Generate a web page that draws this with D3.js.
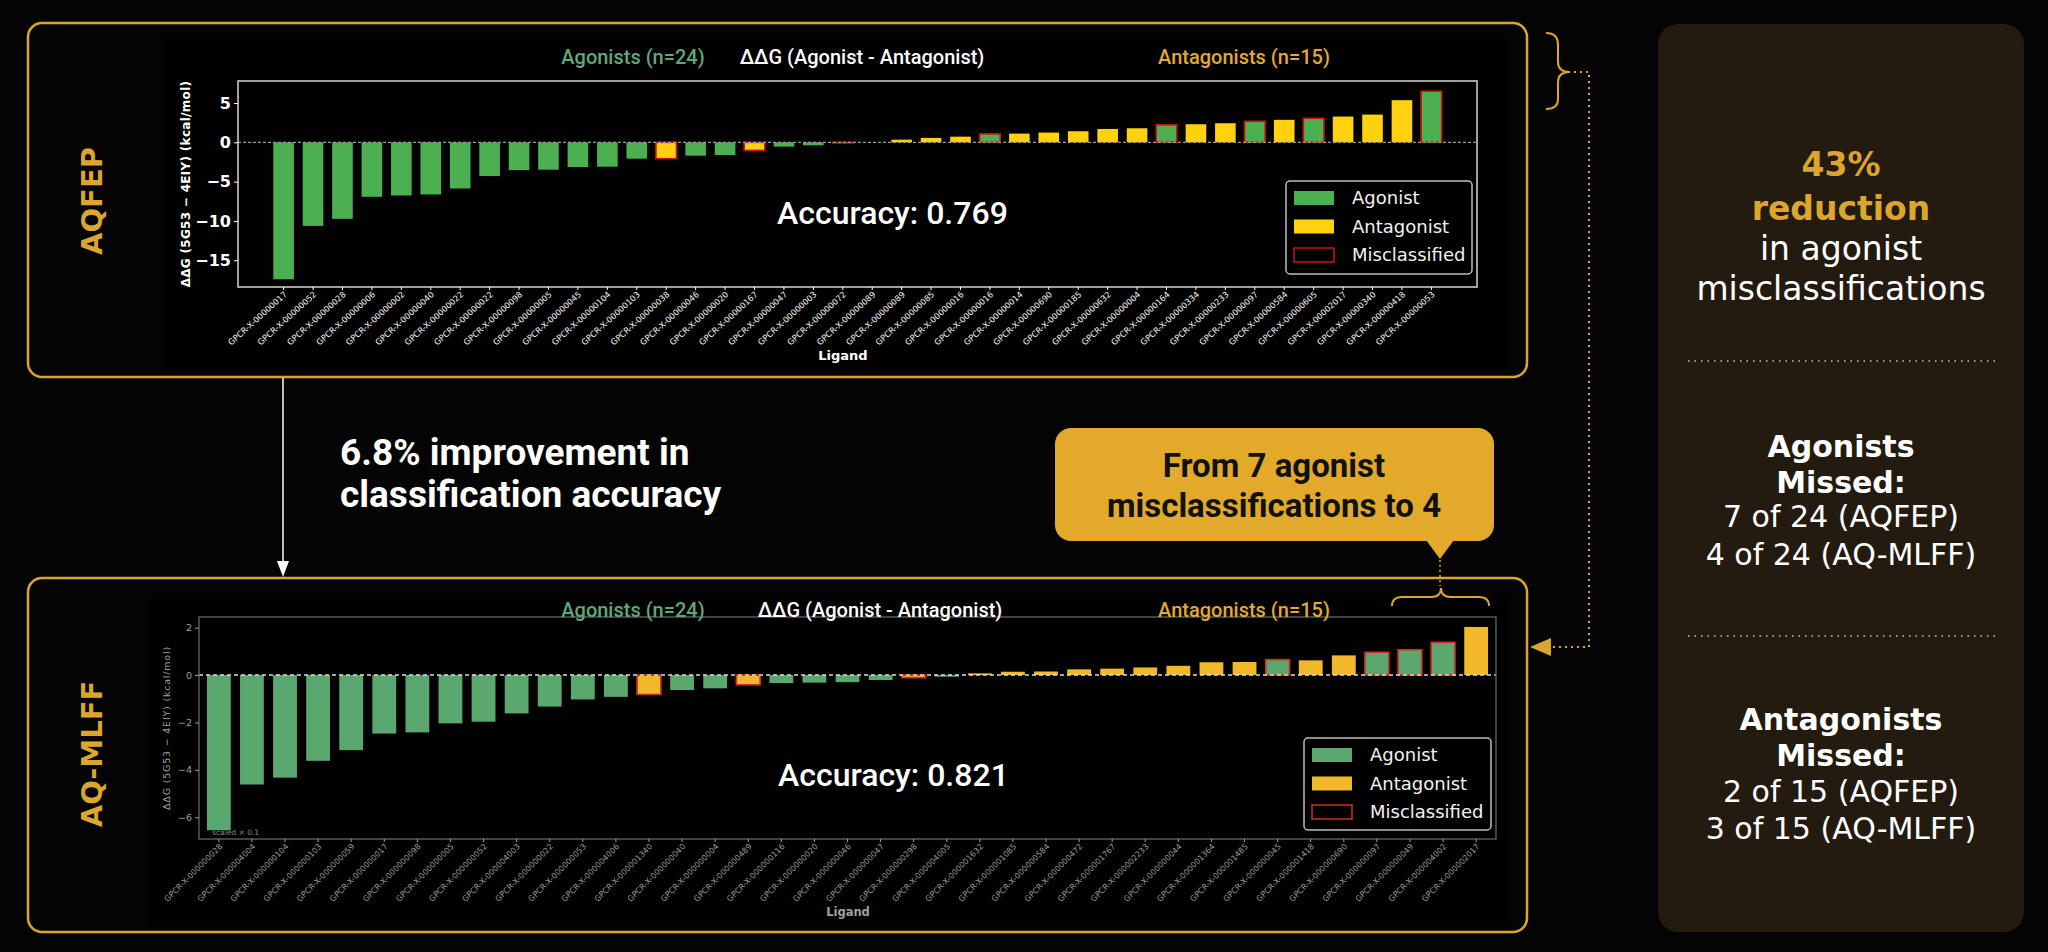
<!DOCTYPE html>
<html>
<head>
<meta charset="utf-8">
<script src="https://cdn.jsdelivr.net/npm/d3@7"></script>
<style>
html, body { margin: 0; padding: 0; background: #040404; }
svg { display: block; }
</style>
</head>
<body>
<script>
// ---- AQFEP panel (top) ----
var fepLigands = [
  "GPCR-X-00000017", "GPCR-X-00000052", "GPCR-X-00000028", "GPCR-X-00000006", "GPCR-X-00000002",
  "GPCR-X-00000040", "GPCR-X-00000022", "GPCR-X-00000022", "GPCR-X-00000098", "GPCR-X-00000005",
  "GPCR-X-00000045", "GPCR-X-00000104", "GPCR-X-00000103", "GPCR-X-00000038", "GPCR-X-00000046",
  "GPCR-X-00000020", "GPCR-X-00000167", "GPCR-X-00000047", "GPCR-X-00000003", "GPCR-X-00000072",
  "GPCR-X-00000089", "GPCR-X-00000089", "GPCR-X-00000085", "GPCR-X-00000016", "GPCR-X-00000016",
  "GPCR-X-00000014", "GPCR-X-00000690", "GPCR-X-00000185", "GPCR-X-00000632", "GPCR-X-00000004",
  "GPCR-X-00000164", "GPCR-X-00000334", "GPCR-X-00000233", "GPCR-X-00000097", "GPCR-X-00000584",
  "GPCR-X-00000605", "GPCR-X-00002017", "GPCR-X-00000340", "GPCR-X-00000418", "GPCR-X-00000053"
];
var fepValues = [
  -17.42, -10.63, -9.73, -6.93, -6.76, -6.63, -5.87, -4.29, -3.53, -3.48,
  -3.14, -3.10, -2.08, -2.08, -1.70, -1.61, -1.02, -0.55, -0.38, -0.08,
  0.02, 0.34, 0.56, 0.72, 1.07, 1.11, 1.24, 1.41, 1.70, 1.79,
  2.22, 2.30, 2.43, 2.68, 2.86, 3.06, 3.28, 3.53, 5.36, 6.51
];
// "ag" = agonist, "an" = antagonist
var fepClass = [
  "ag","ag","ag","ag","ag","ag","ag","ag","ag","ag",
  "ag","ag","ag","an","ag","ag","an","ag","ag","ag",
  "ag","an","an","an","ag","an","an","an","an","an",
  "ag","an","an","ag","an","ag","an","an","an","ag"
];
var fepMissed = [13, 16, 19, 24, 30, 33, 35, 39];
var fepTicks = [5, 0, -5, -10, -15];

// ---- AQ-MLFF panel (bottom) ----
var mlffLigands = [
  "GPCR-X-000000028", "GPCR-X-000004004", "GPCR-X-000000104", "GPCR-X-000000103", "GPCR-X-000000059",
  "GPCR-X-000000017", "GPCR-X-000000098", "GPCR-X-000000005", "GPCR-X-000000052", "GPCR-X-000004003",
  "GPCR-X-000000022", "GPCR-X-000000053", "GPCR-X-000004006", "GPCR-X-000001340", "GPCR-X-000000040",
  "GPCR-X-000000004", "GPCR-X-000000489", "GPCR-X-000000116", "GPCR-X-000000020", "GPCR-X-000000046",
  "GPCR-X-000000047", "GPCR-X-000000298", "GPCR-X-000004005", "GPCR-X-000001632", "GPCR-X-000001085",
  "GPCR-X-000000584", "GPCR-X-000000472", "GPCR-X-000001767", "GPCR-X-000002233", "GPCR-X-000000044",
  "GPCR-X-000001364", "GPCR-X-000001485", "GPCR-X-000000045", "GPCR-X-000001418", "GPCR-X-000000690",
  "GPCR-X-000000097", "GPCR-X-000000049", "GPCR-X-000004002", "GPCR-X-000002017"
];
var mlffValues = [
  -6.55, -4.62, -4.33, -3.62, -3.17, -2.47, -2.42, -2.04, -1.97, -1.62,
  -1.33, -1.03, -0.92, -0.82, -0.63, -0.56, -0.41, -0.34, -0.32, -0.30,
  -0.21, -0.11, -0.07, 0.07, 0.14, 0.15, 0.24, 0.27, 0.32, 0.39,
  0.54, 0.55, 0.65, 0.62, 0.83, 0.96, 1.07, 1.38, 2.03
];
var mlffClass = [
  "ag","ag","ag","ag","ag","ag","ag","ag","ag","ag",
  "ag","ag","ag","an","ag","ag","an","ag","ag","ag",
  "ag","an","ag","an","an","an","an","an","an","an",
  "an","an","ag","an","an","ag","ag","ag","an"
];
var mlffMissed = [13, 16, 21, 32, 35, 36, 37];
var mlffTicks = [2, 0, -2, -4, -6];

var legendLabels = ["Agonist", "Antagonist", "Misclassified"];
var panelStats = [
  {head: ["43%", "reduction"], body: ["in agonist", "misclassifications"]},
  {head: ["Agonists", "Missed:"], body: ["7 of 24 (AQFEP)", "4 of 24 (AQ-MLFF)"]},
  {head: ["Antagonists", "Missed:"], body: ["2 of 15 (AQFEP)", "3 of 15 (AQ-MLFF)"]}
];

var gold = "#DCA62D";

var svg = d3.select("body").append("svg")
    .attr("width", 2048)
    .attr("height", 952);

svg.append("rect").attr("width", 2048).attr("height", 952).attr("fill", "#040404");

function drawChart(o) {
    var g = svg.append("g");
    var idx = d3.range(o.values.length);

    g.append("rect")
        .attr("x", o.img[0]).attr("y", o.img[1])
        .attr("width", o.img[2]).attr("height", o.img[3])
        .attr("fill", "#010101");

    var x = d3.scaleBand()
        .domain(idx)
        .range([o.x0, o.x1])
        .paddingInner(o.pi)
        .paddingOuter(o.po);

    var y = d3.scaleLinear()
        .domain(o.yDomain)
        .range([o.y1, o.y0]);

    var missed = new Set(o.missed);

    g.selectAll(".bar")
        .data(idx)
        .enter()
        .append("rect")
        .attr("class", "bar")
        .attr("x", function(i) { return x(i); })
        .attr("width", x.bandwidth())
        .attr("y", function(i) { return y(Math.max(0, o.values[i])); })
        .attr("height", function(i) { return Math.abs(y(o.values[i]) - y(0)); })
        .attr("fill", function(i) { return o.cls[i] == "ag" ? o.green : o.yellow; })
        .attr("stroke", function(i) { return missed.has(i) ? o.red : "none"; })
        .attr("stroke-width", 1.6);

    g.append("line")
        .attr("x1", o.x0).attr("x2", o.x1)
        .attr("y1", y(0)).attr("y2", y(0))
        .attr("stroke", o.zeroColor)
        .attr("stroke-width", o.zeroWidth)
        .attr("stroke-dasharray", o.zeroDash);

    g.append("rect")
        .attr("x", o.x0).attr("y", o.y0)
        .attr("width", o.x1 - o.x0).attr("height", o.y1 - o.y0)
        .attr("fill", "none")
        .attr("stroke", o.frame)
        .attr("stroke-width", o.frameWidth);

    var yAxis = g.append("g")
        .attr("transform", "translate(" + o.x0 + ",0)")
        .call(d3.axisLeft(y).tickValues(o.ticks).tickSize(4).tickPadding(3));
    yAxis.select(".domain").remove();
    yAxis.selectAll("line").attr("stroke", o.axisColor);
    yAxis.selectAll("text")
        .attr("fill", o.axisColor)
        .style("font-family", "DejaVu Sans")
        .style("font-size", o.yTickSize + "px")
        .style("font-weight", o.bold ? "bold" : "normal");

    var xAxis = g.append("g")
        .attr("transform", "translate(0," + o.y1 + ")")
        .call(d3.axisBottom(x).tickSize(3).tickFormat(function(i) { return o.ligands[i]; }));
    xAxis.select(".domain").remove();
    xAxis.selectAll("line").attr("stroke", o.axisColor);
    xAxis.selectAll("text")
        .attr("x", 0).attr("y", 0).attr("dy", "0.35em")
        .attr("text-anchor", "end")
        .attr("transform", "translate(2,6) rotate(" + o.labelAngle + ")")
        .attr("fill", o.xLabelColor)
        .style("font-family", "DejaVu Sans")
        .style("font-size", o.xLabelSize + "px");

    g.append("text")
        .attr("transform", "translate(" + o.yLabelX + "," + ((o.y0 + o.y1) / 2) + ") rotate(-90)")
        .attr("text-anchor", "middle")
        .attr("fill", o.axisColor)
        .style("font-family", "DejaVu Sans")
        .style("font-size", o.yLabelSize + "px")
        .style("font-weight", o.bold ? "bold" : "normal")
        .style("letter-spacing", o.bold ? "0.3px" : "0.8px")
        .text("ΔΔG (5G53 − 4EIY) (kcal/mol)");

    g.append("text")
        .attr("x", o.ligandX).attr("y", o.ligandY)
        .attr("text-anchor", "middle")
        .attr("fill", o.axisColor)
        .style("font-family", "DejaVu Sans")
        .style("font-weight", "bold")
        .style("font-size", o.ligandSize + "px")
        .text("Ligand");

    // headings above the plot
    var heads = [
        {t: "Agonists (n=24)", x: 633, c: "#5FA879"},
        {t: "ΔΔG (Agonist - Antagonist)", x: o.titleX, c: "#ffffff"},
        {t: "Antagonists (n=15)", x: 1244, c: "#E2AA33"}
    ];
    g.selectAll(".head")
        .data(heads)
        .enter()
        .append("text")
        .attr("x", function(d) { return d.x; })
        .attr("y", o.titleY)
        .attr("text-anchor", "middle")
        .attr("fill", function(d) { return d.c; })
        .style("font-family", "Roboto")
        .style("font-weight", 500)
        .style("font-size", "20px")
        .text(function(d) { return d.t; });

    g.append("text")
        .attr("x", o.accX).attr("y", o.accY)
        .attr("fill", "#fff")
        .style("font-family", "Roboto")
        .style("font-weight", 500)
        .style("font-size", "32px")
        .text(o.accuracy);

    // legend
    var lg = g.append("g");
    lg.append("rect")
        .attr("x", o.legend[0]).attr("y", o.legend[1])
        .attr("width", o.legend[2]).attr("height", o.legend[3])
        .attr("rx", 4)
        .attr("fill", "#000")
        .attr("stroke", "#bdbdbd")
        .attr("stroke-width", 1.5);
    var rows = lg.selectAll(".row")
        .data(legendLabels)
        .enter()
        .append("g")
        .attr("transform", function(d, i) {
            return "translate(" + (o.legend[0] + 8) + "," + (o.legend[1] + 17 + i * 28.5) + ")";
        });
    rows.append("rect")
        .attr("x", 0).attr("y", -7)
        .attr("width", 40).attr("height", 14)
        .attr("fill", function(d, i) { return i == 0 ? o.green : i == 1 ? o.yellow : "#000"; })
        .attr("stroke", function(d, i) { return i == 2 ? o.red : "none"; })
        .attr("stroke-width", 1.5);
    rows.append("text")
        .attr("x", 58).attr("y", 0)
        .attr("dy", "0.35em")
        .attr("fill", "#f2f2f2")
        .style("font-family", "DejaVu Sans")
        .style("font-size", "18px")
        .text(function(d) { return d; });

    if (o.note) {
        g.append("text")
            .attr("x", o.x0 + 13).attr("y", o.y1 - 4)
            .attr("fill", "#888")
            .style("font-family", "DejaVu Sans")
            .style("font-size", "7.5px")
            .text(o.note);
    }
    return {x: x, y: y};
}

// panel frames
svg.append("rect")
    .attr("x", 28).attr("y", 23).attr("width", 1499).attr("height", 354)
    .attr("rx", 14).attr("fill", "none").attr("stroke", gold).attr("stroke-width", 2.5);
svg.append("rect")
    .attr("x", 28).attr("y", 578).attr("width", 1499).attr("height", 354)
    .attr("rx", 14).attr("fill", "none").attr("stroke", gold).attr("stroke-width", 2.5);

drawChart({
    ligands: fepLigands, values: fepValues, cls: fepClass, missed: fepMissed, ticks: fepTicks,
    img: [162, 38, 1345, 334],
    x0: 238, x1: 1477, y0: 81, y1: 287, yDomain: [-18.4, 7.8], pi: 0.3, po: 1.2,
    green: "#4CAF50", yellow: "#FFD10F", red: "#D01010",
    zeroColor: "#9a9a9a", zeroWidth: 1.2, zeroDash: "3,2",
    frame: "#c8c8c8", frameWidth: 1.6, axisColor: "#ffffff", xLabelColor: "#f0f0f0",
    bold: true, yTickSize: 16, yLabelSize: 12, yLabelX: 190, labelAngle: -42, xLabelSize: 8.3,
    ligandX: 843, ligandY: 360, ligandSize: 13,
    titleX: 862, titleY: 64, accuracy: "Accuracy: 0.769", accX: 777, accY: 224,
    legend: [1286, 181, 186, 93]
});

drawChart({
    ligands: mlffLigands, values: mlffValues, cls: mlffClass, missed: mlffMissed, ticks: mlffTicks,
    img: [150, 598, 1360, 328],
    x0: 199, x1: 1496, y0: 617, y1: 839, yDomain: [-6.92, 2.45], pi: 0.28, po: 0.24,
    green: "#5AA870", yellow: "#F2B82C", red: "#D0301C",
    zeroColor: "#dddddd", zeroWidth: 1.5, zeroDash: "4,3",
    frame: "#6e6e6e", frameWidth: 1.2, axisColor: "#a0a0a0", xLabelColor: "#9a9a9a",
    bold: false, yTickSize: 9.5, yLabelSize: 9.5, yLabelX: 170, labelAngle: -45, xLabelSize: 8,
    ligandX: 848, ligandY: 916, ligandSize: 11.5,
    titleX: 880, titleY: 617, accuracy: "Accuracy: 0.821", accX: 778, accY: 786,
    legend: [1304, 738, 187, 92], note: "scaled × 0.1"
});

// side labels
[["AQFEP", 201], ["AQ-MLFF", 754]].forEach(function(d) {
    svg.append("text")
        .attr("transform", "translate(102," + d[1] + ") rotate(-90)")
        .attr("text-anchor", "middle")
        .attr("fill", gold)
        .style("font-family", "DejaVu Sans")
        .style("font-weight", "bold")
        .style("font-size", "29px")
        .text(d[0]);
});

// arrow between the panels
svg.append("line")
    .attr("x1", 283).attr("x2", 283).attr("y1", 378).attr("y2", 566)
    .attr("stroke", "#fff").attr("stroke-width", 1.5);
svg.append("path")
    .attr("d", "M283,577 L277,561 L289,561 Z")
    .attr("fill", "#fff");

svg.append("text")
    .attr("x", 340).attr("y", 465)
    .attr("fill", "#fff")
    .style("font-family", "Roboto").style("font-weight", 700).style("font-size", "37px")
    .selectAll("tspan")
    .data(["6.8% improvement in", "classification accuracy"])
    .enter()
    .append("tspan")
    .attr("x", 340)
    .attr("dy", function(d, i) { return i == 0 ? 0 : 42; })
    .text(function(d) { return d; });

// callout
svg.append("rect")
    .attr("x", 1055).attr("y", 428).attr("width", 439).attr("height", 113)
    .attr("rx", 16).attr("fill", "#E2A92B");
svg.append("path")
    .attr("d", "M1426,540 L1454,540 L1440,559 Z")
    .attr("fill", "#E2A92B");
svg.append("text")
    .attr("text-anchor", "middle")
    .attr("fill", "#111")
    .style("font-family", "Roboto").style("font-weight", 700).style("font-size", "33px")
    .selectAll("tspan")
    .data(["From 7 agonist", "misclassifications to 4"])
    .enter()
    .append("tspan")
    .attr("x", 1274)
    .attr("y", function(d, i) { return 477 + i * 40; })
    .text(function(d) { return d; });
svg.append("line")
    .attr("x1", 1440).attr("x2", 1440).attr("y1", 560).attr("y2", 586)
    .attr("stroke", gold).attr("stroke-width", 1.5).attr("stroke-dasharray", "2,3");

// brace over the last bars of the bottom chart
svg.append("path")
    .attr("d", "M1392,606 Q1392,597 1402,597 L1431,597 Q1441,597 1441,588 Q1441,597 1451,597 L1479,597 Q1489,597 1489,606")
    .attr("fill", "none").attr("stroke", gold).attr("stroke-width", 2);

// brace and dotted connector on the right of the top panel
svg.append("path")
    .attr("d", "M1546,33 Q1558,33 1558,45 L1558,62 Q1558,72 1570,72 Q1558,72 1558,82 L1558,99 Q1558,109 1546,109")
    .attr("fill", "none").attr("stroke", gold).attr("stroke-width", 2);
svg.append("path")
    .attr("d", "M1574,72 L1589,72 L1589,647 L1552,647")
    .attr("fill", "none").attr("stroke", gold).attr("stroke-width", 2).attr("stroke-dasharray", "2,4");
svg.append("path")
    .attr("d", "M1530,647 L1551,638 L1551,656 Z")
    .attr("fill", gold);

// stats panel
svg.append("rect")
    .attr("x", 1658).attr("y", 24).attr("width", 366).attr("height", 908)
    .attr("rx", 20).attr("fill", "#231B0F");

var groupY = [[176, 220, 260, 300], [457, 493, 527, 565], [730, 766, 802, 839]];
var groupSize = [33, 30, 30];
panelStats.forEach(function(s, k) {
    var lines = s.head.concat(s.body);
    svg.append("g").selectAll("text")
        .data(lines)
        .enter()
        .append("text")
        .attr("x", 1841)
        .attr("y", function(d, i) { return groupY[k][i]; })
        .attr("text-anchor", "middle")
        .attr("fill", function(d, i) { return i < 2 ? (k == 0 ? gold : "#fff") : "#fff"; })
        .style("font-family", "DejaVu Sans")
        .style("font-weight", function(d, i) { return i < 2 ? "bold" : "normal"; })
        .style("font-size", groupSize[k] + "px")
        .text(function(d) { return d; });
});

[361, 636].forEach(function(yy) {
    svg.append("line")
        .attr("x1", 1688).attr("x2", 1995).attr("y1", yy).attr("y2", yy)
        .attr("stroke", "#cfc6b5").attr("stroke-width", 1.5).attr("stroke-dasharray", "1.5,5");
});
</script>
</body>
</html>
